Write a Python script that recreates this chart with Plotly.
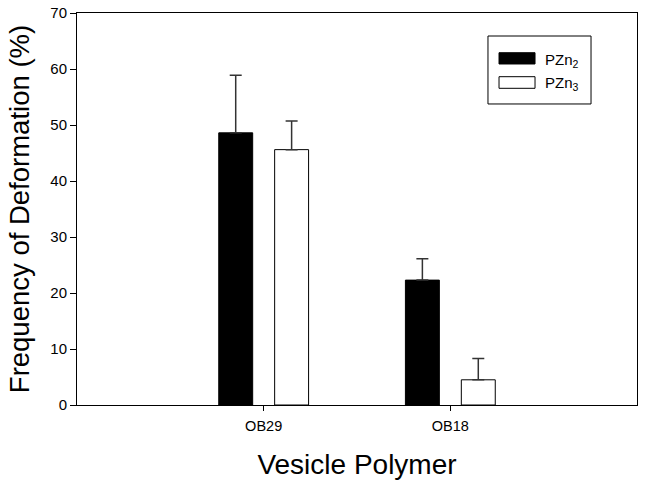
import plotly.graph_objects as go

categories = ["OB29", "OB18"]
series_names = ["PZn<sub>2</sub>", "PZn<sub>3</sub>"]
pzn2_values = [48.6, 22.3]
pzn2_errors = [10.3, 3.8]
pzn3_values = [45.6, 4.5]
pzn3_errors = [5.1, 3.8]
y_ticks = [0, 10, 20, 30, 40, 50, 60, 70]

FONT = "Liberation Sans, Arial, sans-serif"
fills = ["black", "white"]

fig = go.Figure()
for name, vals, errs, fill in zip(series_names, [pzn2_values, pzn3_values],
                                  [pzn2_errors, pzn3_errors], fills):
    fig.add_trace(go.Bar(
        x=categories, y=vals, name=name, showlegend=False,
        marker=dict(color=fill, line=dict(color="black", width=1)),
        error_y=dict(type="data", array=errs, arrayminus=[0] * len(errs), symmetric=False,
                     color="#333333", thickness=1.5, width=6),
    ))

# manual legend (box, wide swatches, labels) in paper coordinates
shapes = [dict(type="rect", xref="paper", yref="paper", x0=0.7339, x1=0.9179,
               y0=0.7679, y1=0.9413, line=dict(color="black", width=1), fillcolor="white",
               layer="above")]
swatch_y = [(0.8699, 0.8987), (0.8079, 0.8375)]
label_y = [0.880, 0.8196]
annotations = []
for (y0, y1), ly, fill, name in zip(swatch_y, label_y, fills, series_names):
    shapes.append(dict(type="rect", xref="paper", yref="paper", x0=0.7536, x1=0.8179,
                       y0=y0, y1=y1, line=dict(color="black", width=1), fillcolor=fill,
                       layer="above"))
    annotations.append(dict(xref="paper", yref="paper", x=0.8321, y=ly, xanchor="left",
                            yanchor="middle", text=name, showarrow=False,
                            font=dict(size=15, family=FONT, color="black")))

fig.update_layout(
    width=646, height=489,
    margin=dict(l=77, r=9, t=13, b=84),
    paper_bgcolor="white", plot_bgcolor="white",
    barmode="group", bargap=0.401, bargroupgap=0.393,
    font=dict(family=FONT, color="black", size=14),
    showlegend=False,
    shapes=shapes, annotations=annotations,
    xaxis=dict(
        type="category", range=[-1, 2], automargin=False,
        showline=True, linecolor="black", linewidth=1, mirror=True,
        ticks="outside", ticklen=5, tickcolor="black", ticklabelstandoff=3,
        showgrid=False, zeroline=False,
        tickfont=dict(size=14.5),
        title=dict(text="Vesicle Polymer", font=dict(size=28), standoff=20),
    ),
    yaxis=dict(
        range=[0, 70], tickvals=y_ticks, automargin=False,
        showline=True, linecolor="black", linewidth=1, mirror=True,
        ticks="outside", ticklen=6, tickcolor="black",
        showgrid=False, zeroline=False, ticklabeloverflow="allow",
        tickfont=dict(size=15),
        title=dict(text="Frequency of Deformation (%)", font=dict(size=27.5), standoff=12),
    ),
)

fig.write_html("out.html", config={"displayModeBar": False},
               post_script="document.body.style.margin='0px';")
